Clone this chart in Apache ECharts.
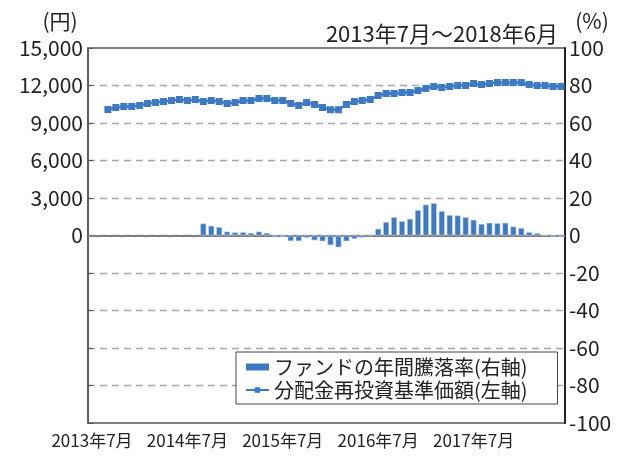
<!DOCTYPE html>
<html><head><meta charset="utf-8">
<script src="https://cdn.jsdelivr.net/npm/echarts@6/dist/echarts.min.js"></script>
<style>html,body{margin:0;padding:0;background:#fff}#c{width:619px;height:457px}</style>
</head><body><div id="c"></div>
<script>
// Monthly categories 2013-07 .. 2018-06 (60)
const categories = [];
for (let y = 2013, m = 7; categories.length < 60; ) { categories.push(y + '年' + m + '月'); m++; if (m > 12) { m = 1; y++; } }

// 分配金再投資基準価額 (円) – starts 2013-09
const navValues = [null, null,
  10080, 10240, 10320, 10320, 10400, 10560, 10640, 10720, 10800, 10880,
  10800, 10880, 10720, 10800, 10720, 10560, 10640, 10800, 10800, 10960,
  10960, 10800, 10800, 10560, 10400, 10640, 10480, 10240, 10060, 10060,
  10480, 10720, 10800, 10880, 11200, 11360, 11360, 11440, 11440, 11600,
  11760, 11920, 11840, 11920, 12000, 12000, 12160, 12080, 12160, 12240,
  12240, 12240, 12240, 12080, 12000, 12000, 11920, 11920];

// ファンドの年間騰落率 (%) – starts 2014-09
const returnValues = [null, null, null, null, null, null, null, null, null, null, null, null, null, null,
  6.4, 5.2, 4.5, 2.1, 1.7, 1.8, 1.4, 2.1, 1.4, -0.9,
  -0.5, -3.0, -3.0, -1.3, -2.6, -3.1, -5.2, -6.3, -3.1, -1.8,
  -1.1, 0.5, 3.6, 7.2, 9.8, 7.7, 8.9, 13.6, 16.5, 17.3,
  13.0, 10.9, 10.7, 9.8, 8.4, 6.2, 6.8, 6.6, 6.8, 4.8,
  4.0, 1.8, 1.3, 0.2, -0.8, -0.8];

const seriesNames = ['ファンドの年間騰落率(右軸)', '分配金再投資基準価額(左軸)'];

const FONT = "'Noto Sans CJK JP', 'Noto Sans', sans-serif";
const BLUE = '#3d7ac3';
const TXT = '#222';

const chart = echarts.init(document.getElementById('c'), null, { renderer: 'canvas' });
chart.setOption({
  animation: false,
  textStyle: { fontFamily: FONT },
  title: [
    { text: '(円)', left: 55, top: 6, textAlign: 'center', textStyle: { fontSize: 21, fontWeight: 'normal', color: TXT, fontFamily: FONT } },
    { text: '2013年7月～2018年6月', right: 56, top: 18, textStyle: { fontSize: 22, fontWeight: 'normal', color: TXT, fontFamily: FONT } },
    { text: '(%)', left: 587, top: 6, textAlign: 'center', textStyle: { fontSize: 21, fontWeight: 'normal', color: TXT, fontFamily: FONT } }
  ],
  legend: {
    orient: 'vertical', left: 236, top: 352,
    padding: [5, 30, 4, 9], itemGap: 3, itemWidth: 23, itemHeight: 7,
    backgroundColor: '#fff', borderColor: '#444', borderWidth: 1,
    textStyle: { fontSize: 20, color: TXT, fontFamily: FONT },
    data: [{ name: seriesNames[0], icon: 'rect', itemStyle: { borderWidth: 0 } }, { name: seriesNames[1] }]
  },
  grid: { left: 88, right: 54, top: 48, bottom: 34, show: true, borderColor: '#555', borderWidth: 1.5,
    containLabel: false, outerBoundsMode: 'none' },
  xAxis: {
    type: 'category', data: categories, boundaryGap: true, position: 'bottom',
    axisLine: { show: false, onZero: false },
    axisTick: { show: false }, splitLine: { show: false },
    axisLabel: { show: true, interval: 11, margin: 9, fontSize: 17, color: TXT, fontFamily: FONT, align: 'center', hideOverlap: false }
  },
  yAxis: [
    { type: 'value', min: -15000, max: 15000, interval: 3000, position: 'left',
      axisLine: { show: true, lineStyle: { color: '#555', width: 1.5 } },
      axisTick: { show: true, inside: true, length: 5, lineStyle: { color: '#555' } },
      axisLabel: { fontSize: 21, color: TXT, margin: 5, fontFamily: FONT,
        formatter: v => v < 0 ? '' : v.toLocaleString('en-US') },
      splitLine: { show: false } },
    { type: 'value', min: -100, max: 100, interval: 20, position: 'right',
      axisLine: { show: true, lineStyle: { color: '#222', width: 2 } },
      axisTick: { show: false },
      axisLabel: { fontSize: 21, color: TXT, margin: 4, fontFamily: FONT },
      splitLine: { show: true, showMinLine: false, showMaxLine: false, lineStyle: { color: '#a6a6a6', width: 1.3, type: [7, 5] } } }
  ],
  series: [
    { name: seriesNames[0], type: 'bar', yAxisIndex: 1, data: returnValues,
      barWidth: 6, itemStyle: { color: BLUE, borderColor: '#c9d9ee', borderWidth: 0.6 }, z: 2,
      markLine: { silent: true, symbol: 'none', label: { show: false }, z: 1,
        lineStyle: { color: '#7f7f7f', width: 2, type: 'solid' }, data: [{ yAxis: 0 }] } },
    { name: seriesNames[1], type: 'line', yAxisIndex: 0, data: navValues,
      symbol: 'rect', symbolSize: 7, showSymbol: true, showAllSymbol: true,
      lineStyle: { color: BLUE, width: 2.5 }, itemStyle: { color: BLUE }, z: 3 }
  ]
});
</script></body></html>
